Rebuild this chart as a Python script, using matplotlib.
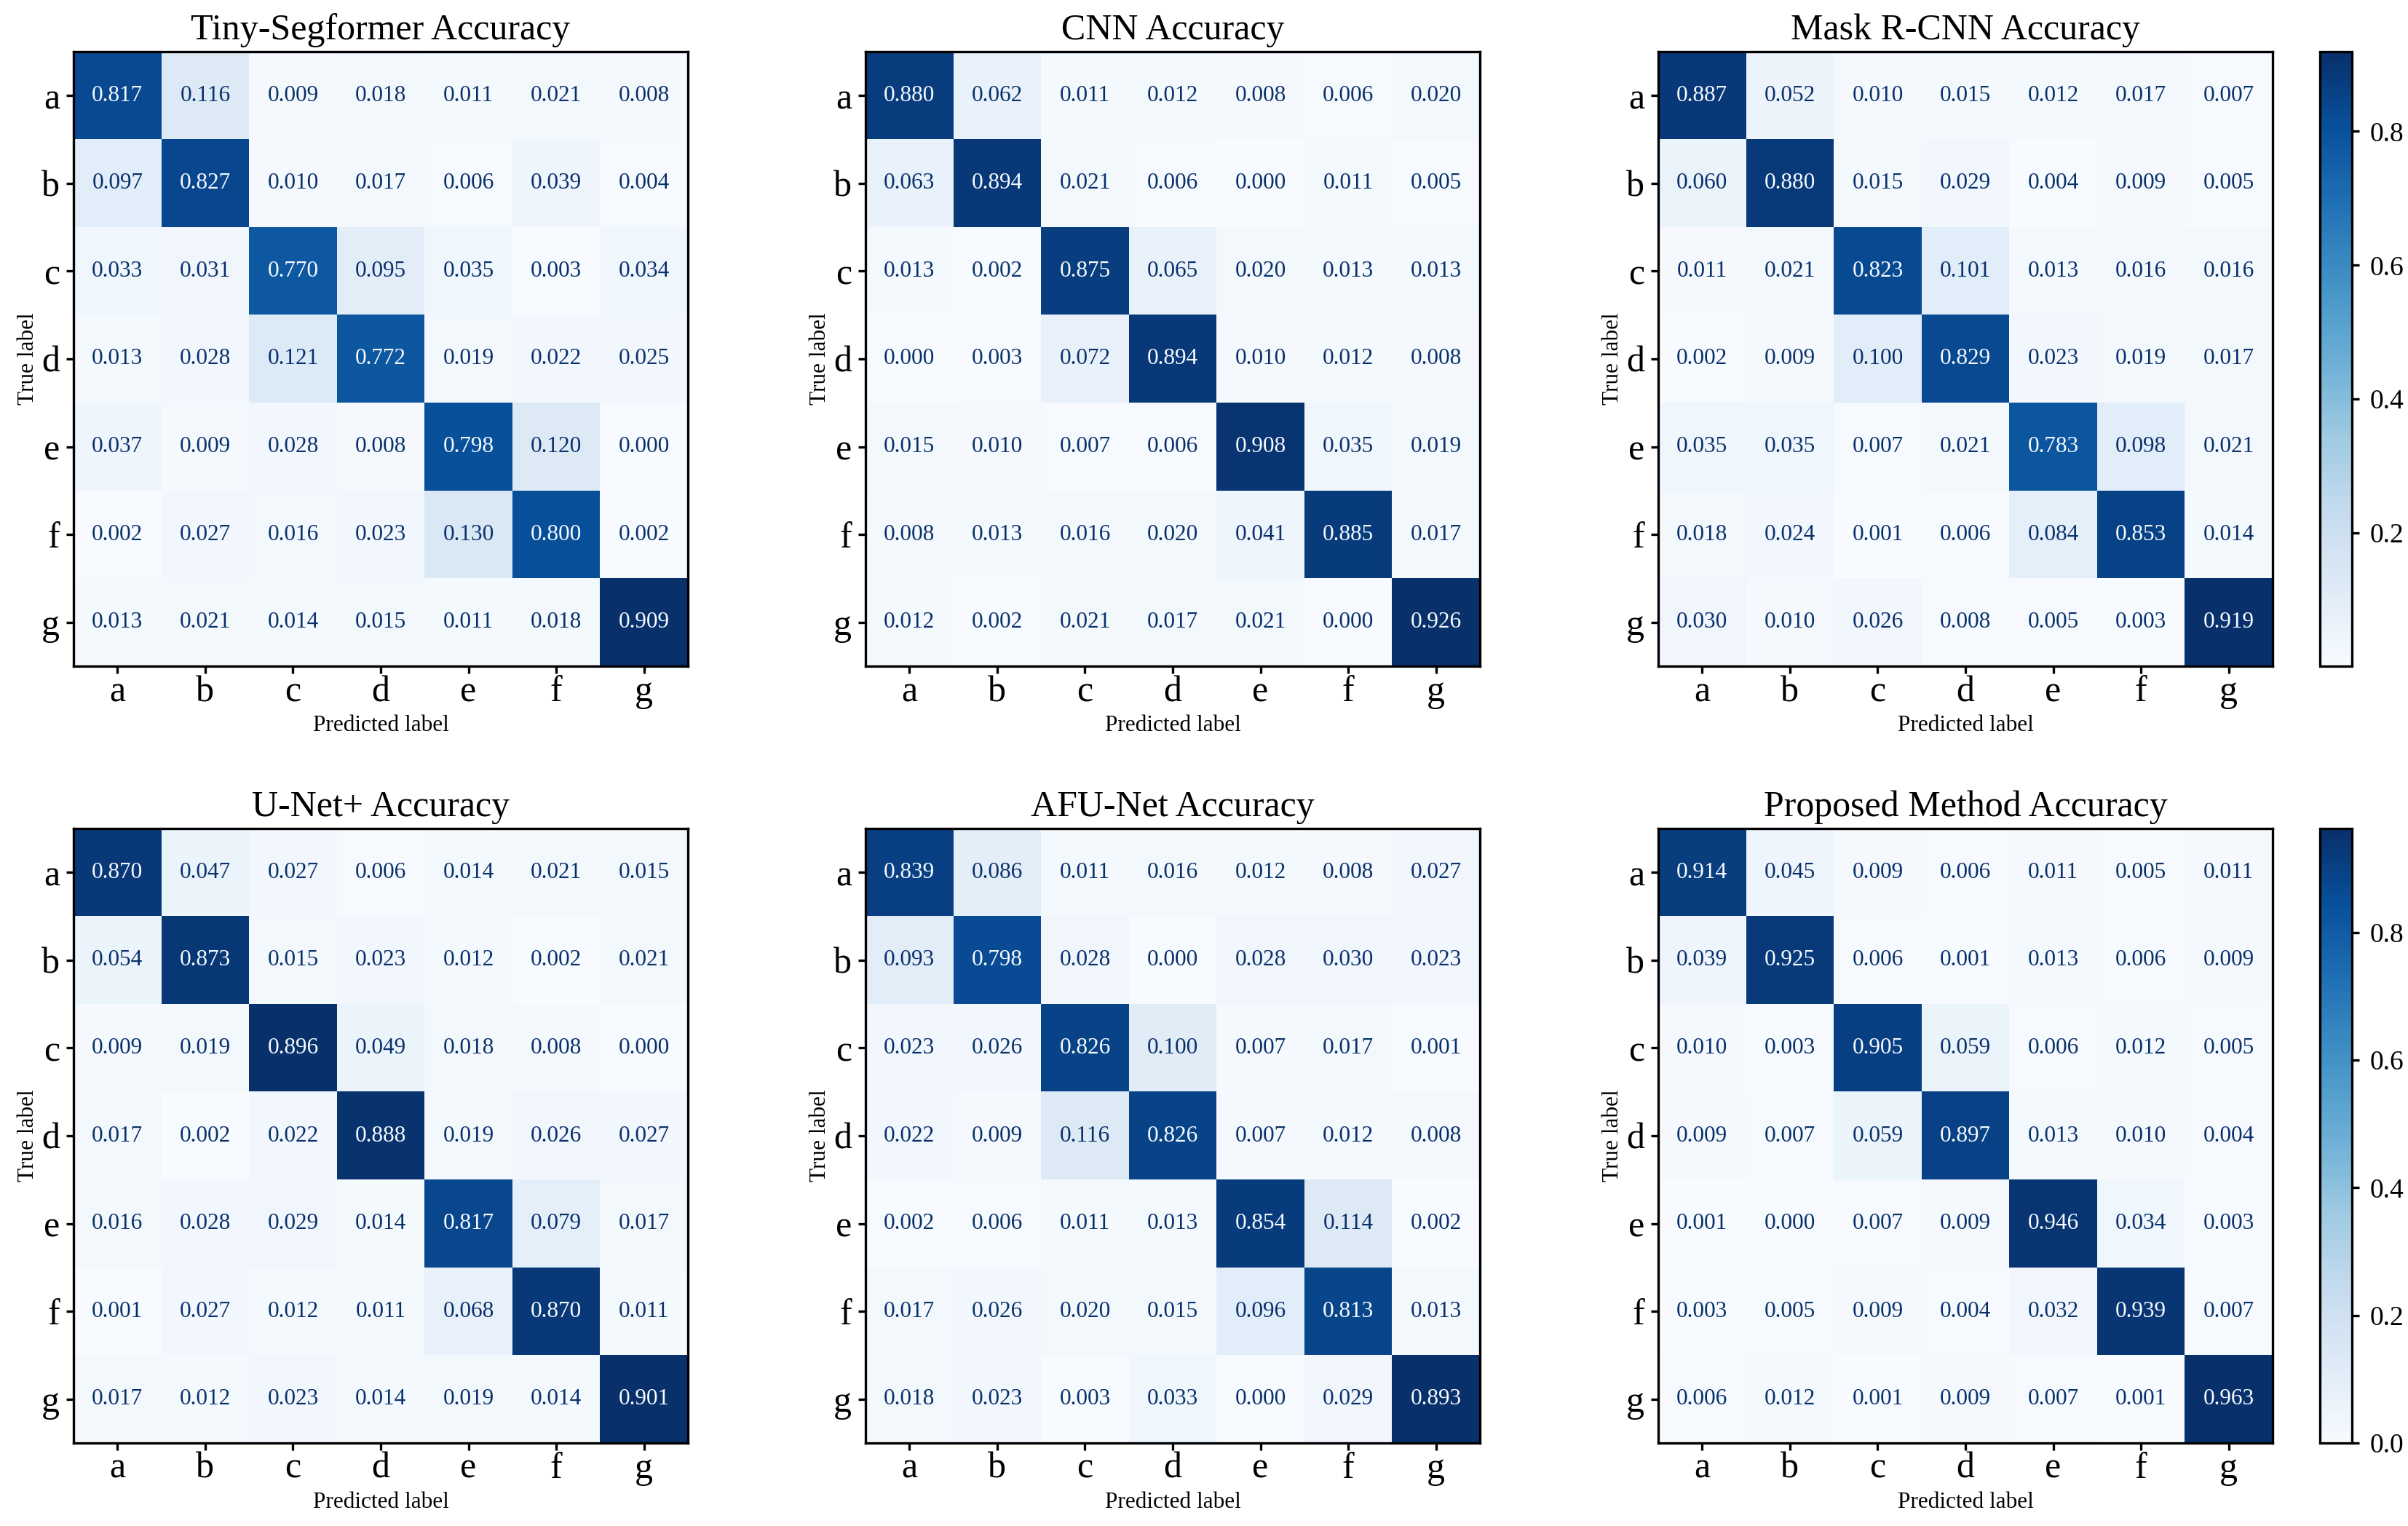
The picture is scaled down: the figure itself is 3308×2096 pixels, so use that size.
import numpy as np
import matplotlib
matplotlib.use("Agg")
import matplotlib.pyplot as plt

plt.rcParams['font.family'] = ['Liberation Serif', 'DejaVu Serif']

labels = ['a', 'b', 'c', 'd', 'e', 'f', 'g']

tiny_segformer = [
    [0.817, 0.116, 0.009, 0.018, 0.011, 0.021, 0.008],
    [0.097, 0.827, 0.010, 0.017, 0.006, 0.039, 0.004],
    [0.033, 0.031, 0.770, 0.095, 0.035, 0.003, 0.034],
    [0.013, 0.028, 0.121, 0.772, 0.019, 0.022, 0.025],
    [0.037, 0.009, 0.028, 0.008, 0.798, 0.120, 0.000],
    [0.002, 0.027, 0.016, 0.023, 0.130, 0.800, 0.002],
    [0.013, 0.021, 0.014, 0.015, 0.011, 0.018, 0.909]]

cnn = [
    [0.880, 0.062, 0.011, 0.012, 0.008, 0.006, 0.020],
    [0.063, 0.894, 0.021, 0.006, 0.000, 0.011, 0.005],
    [0.013, 0.002, 0.875, 0.065, 0.020, 0.013, 0.013],
    [0.000, 0.003, 0.072, 0.894, 0.010, 0.012, 0.008],
    [0.015, 0.010, 0.007, 0.006, 0.908, 0.035, 0.019],
    [0.008, 0.013, 0.016, 0.020, 0.041, 0.885, 0.017],
    [0.012, 0.002, 0.021, 0.017, 0.021, 0.000, 0.926]]

mask_rcnn = [
    [0.887, 0.052, 0.010, 0.015, 0.012, 0.017, 0.007],
    [0.060, 0.880, 0.015, 0.029, 0.004, 0.009, 0.005],
    [0.011, 0.021, 0.823, 0.101, 0.013, 0.016, 0.016],
    [0.002, 0.009, 0.100, 0.829, 0.023, 0.019, 0.017],
    [0.035, 0.035, 0.007, 0.021, 0.783, 0.098, 0.021],
    [0.018, 0.024, 0.001, 0.006, 0.084, 0.853, 0.014],
    [0.030, 0.010, 0.026, 0.008, 0.005, 0.003, 0.919]]

unet_plus = [
    [0.870, 0.047, 0.027, 0.006, 0.014, 0.021, 0.015],
    [0.054, 0.873, 0.015, 0.023, 0.012, 0.002, 0.021],
    [0.009, 0.019, 0.896, 0.049, 0.018, 0.008, 0.000],
    [0.017, 0.002, 0.022, 0.888, 0.019, 0.026, 0.027],
    [0.016, 0.028, 0.029, 0.014, 0.817, 0.079, 0.017],
    [0.001, 0.027, 0.012, 0.011, 0.068, 0.870, 0.011],
    [0.017, 0.012, 0.023, 0.014, 0.019, 0.014, 0.901]]

afu_net = [
    [0.839, 0.086, 0.011, 0.016, 0.012, 0.008, 0.027],
    [0.093, 0.798, 0.028, 0.000, 0.028, 0.030, 0.023],
    [0.023, 0.026, 0.826, 0.100, 0.007, 0.017, 0.001],
    [0.022, 0.009, 0.116, 0.826, 0.007, 0.012, 0.008],
    [0.002, 0.006, 0.011, 0.013, 0.854, 0.114, 0.002],
    [0.017, 0.026, 0.020, 0.015, 0.096, 0.813, 0.013],
    [0.018, 0.023, 0.003, 0.033, 0.000, 0.029, 0.893]]

proposed = [
    [0.914, 0.045, 0.009, 0.006, 0.011, 0.005, 0.011],
    [0.039, 0.925, 0.006, 0.001, 0.013, 0.006, 0.009],
    [0.010, 0.003, 0.905, 0.059, 0.006, 0.012, 0.005],
    [0.009, 0.007, 0.059, 0.897, 0.013, 0.010, 0.004],
    [0.001, 0.000, 0.007, 0.009, 0.946, 0.034, 0.003],
    [0.003, 0.005, 0.009, 0.004, 0.032, 0.939, 0.007],
    [0.006, 0.012, 0.001, 0.009, 0.007, 0.001, 0.963]]

titles = ['Tiny-Segformer Accuracy', 'CNN Accuracy', 'Mask R-CNN Accuracy',
          'U-Net+ Accuracy', 'AFU-Net Accuracy', 'Proposed Method Accuracy']
matrices = [tiny_segformer, cnn, mask_rcnn, unet_plus, afu_net, proposed]

W, H = 3308, 2096
fig = plt.figure(figsize=(W / 300, H / 300), dpi=300)
cmap = plt.get_cmap('Blues')

size = 844
lefts = [101, 1189, 2278]
tops = [71, 1138]

for k, (title, m) in enumerate(zip(titles, matrices)):
    r, c = divmod(k, 3)
    ax = fig.add_axes([lefts[c] / W, (H - tops[r] - size) / H, size / W, size / H])
    cm = np.array(m)
    im = ax.imshow(cm, cmap=cmap, interpolation='nearest')
    thresh = (cm.max() + cm.min()) / 2.0
    for i in range(cm.shape[0]):
        for j in range(cm.shape[1]):
            color = cmap(0.0) if cm[i, j] >= thresh else cmap(1.0)
            ax.text(j, i, format(cm[i, j], '.3f'), ha='center', va='center',
                    color=color, fontsize=7.5)
    ax.set_xticks(range(len(labels)))
    ax.set_yticks(range(len(labels)))
    ax.set_xticklabels(labels, fontsize=12)
    ax.set_yticklabels(labels, fontsize=12)
    ax.tick_params(axis='x', length=2.5, pad=0.5)
    ax.tick_params(axis='y', length=2.5, pad=2)
    ax.set_xlabel('Predicted label', fontsize=7.5, labelpad=2)
    ax.set_ylabel('True label', fontsize=7.5, labelpad=1)
    ax.set_title(title, fontsize=12, pad=4)
    if c == 2:
        cax = fig.add_axes([3187 / W, (H - tops[r] - size) / H, 44 / W, size / H])
        cb = fig.colorbar(im, cax=cax)
        cb.ax.tick_params(labelsize=9, length=2.5)

fig.savefig('out.png', dpi=300)
